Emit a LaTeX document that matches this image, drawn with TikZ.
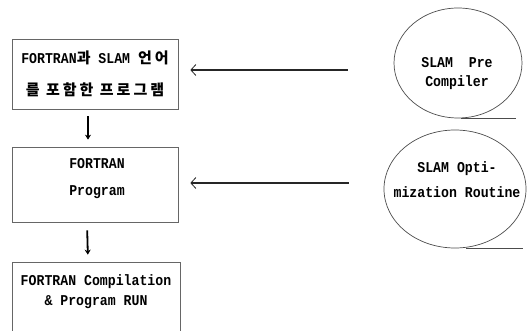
\documentclass[tikz,border=0pt]{standalone}
\usepackage{fontspec}
\setmainfont{Liberation Mono}[FakeStretch=0.88]
\newfontfamily\kr{Noto Sans CJK KR}[LetterSpace=20]
\usetikzlibrary{shapes.geometric,arrows.meta}
\begin{document}
\begin{tikzpicture}[x=1pt,y=-1pt,
  box/.style={draw=black!60, line width=0.7pt, minimum width=166pt, inner sep=0pt},
  oval/.style={ellipse, draw=black!70, line width=0.7pt, inner sep=0pt},
  txt/.style={align=center, inner sep=0pt, font=\bfseries\fontsize{15}{#1}\selectfont},
  harrow/.style={draw=black!85, line width=1.4pt, -{Straight Barb[length=5pt,width=11pt,line width=0.8pt]}},
  varrow/.style={draw=black, line width=1.8pt, -{Stealth[length=5pt,width=6pt]}},
  uline/.style={draw=black!70, line width=0.9pt}]
\useasboundingbox (0,0) rectangle (532,331);
\clip (0,0) rectangle (532,331);
% boxes
\node[box, minimum height=70pt] (b1) at (95,74) {};
\node[box, minimum height=75pt] (b2) at (95,184.5) {};
\node[box, minimum width=168pt, minimum height=96pt] (b3) at (96,310) {};
% box texts
\node[txt=32] (t1) at (95,74) {FORTRAN{\kr 과} SLAM {\kr 언어}\\{\kr 를 포함한 프로그램}};
\node[txt=27] (t2) at (97,178.5) {FORTRAN\\Program};
\node[txt=20] (t3) at (96,292) {FORTRAN Compilation\\\& Program RUN};
% ellipses
\node[oval, minimum width=128pt, minimum height=110pt] (e1) at (458,63) {};
\node[oval, minimum width=142pt, minimum height=118pt] (e2) at (455,189) {};
\node[txt=19] (t4) at (457,74) {SLAM\ \ Pre\\Compiler};
\node[txt=25] (t5) at (457,180) {SLAM Opti-\\mization Routine};
% underlines
\draw[uline] ([xshift=3pt]e1.south) -- ([xshift=58pt]e1.south);
\draw[uline] ([xshift=11pt]e2.south) -- ([xshift=68pt]e2.south);
% vertical arrows
\draw[varrow, shorten <=7pt, shorten >=7pt] ([xshift=-7pt]b1.south) -- ([xshift=-7pt]b2.north);
\draw[varrow, shorten <=8pt, shorten >=7pt] ([xshift=-8pt]b2.south) -- ([xshift=-8pt]b3.north);
% horizontal arrows
\draw[harrow, shorten <=46pt, shorten >=12pt] (e1.west |- 0,70) -- (b1.east |- 0,70);
\draw[harrow, shorten <=35pt, shorten >=12pt] (e2.west |- 0,183) -- (b2.east |- 0,183);
\end{tikzpicture}
\end{document}
